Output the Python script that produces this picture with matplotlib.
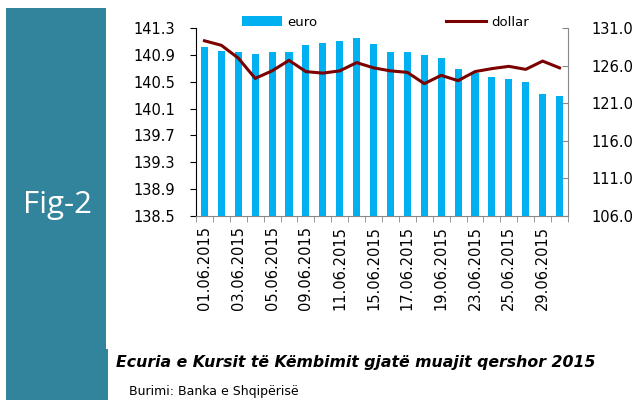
import numpy as np
import matplotlib.pyplot as plt
from matplotlib.patches import Rectangle
from matplotlib.lines import Line2D
from matplotlib.patches import Patch

# business days of June 2015
dates = ["01.06.2015", "02.06.2015", "03.06.2015", "04.06.2015", "05.06.2015",
         "08.06.2015", "09.06.2015", "10.06.2015", "11.06.2015", "12.06.2015",
         "15.06.2015", "16.06.2015", "17.06.2015", "18.06.2015", "19.06.2015",
         "22.06.2015", "23.06.2015", "24.06.2015", "25.06.2015", "26.06.2015",
         "29.06.2015", "30.06.2015"]

euro = [141.01, 140.96, 140.94, 140.92, 140.94, 140.94, 141.04, 141.08, 141.11, 141.15,
        141.06, 140.94, 140.94, 140.90, 140.85, 140.69, 140.63, 140.57, 140.54, 140.50,
        140.31, 140.29]

dollar = [129.3, 128.7, 127.0, 124.3, 125.3, 126.7, 125.2, 125.0, 125.3, 126.4,
          125.7, 125.3, 125.1, 123.6, 124.7, 124.0, 125.2, 125.6, 125.9, 125.5,
          126.6, 125.7]

left_ticks = [138.5, 138.9, 139.3, 139.7, 140.1, 140.5, 140.9, 141.3]
right_ticks = [106.0, 111.0, 116.0, 121.0, 126.0, 131.0]

title = "Ecuria e Kursit të Këmbimit gjatë muajit qershor 2015"
source = "Burimi: Banka e Shqipërisë"

W, H = 634, 400
fig = plt.figure(figsize=(W / 100, H / 100), dpi=100)
fig.patch.set_facecolor("white")

teal = "#31849B"
fig.patches.append(Rectangle((6 / W, 0), 100 / W, 392 / H, transform=fig.transFigure,
                             facecolor=teal, edgecolor="none", zorder=0))
fig.patches.append(Rectangle((6 / W, 0), 102 / W, 51 / H, transform=fig.transFigure,
                             facecolor=teal, edgecolor="none", zorder=0))
fig.text(57 / W, 1 - 205 / H, "Fig-2", color="white", fontsize=22.5,
         family="Open Sans", fontweight="medium", ha="center", va="center")

ax = fig.add_axes([196 / W, 184 / H, 372 / W, 188 / H])
x = np.arange(len(dates))
ax.bar(x, euro, width=0.42, color="#00B0F0", bottom=0, zorder=2)
ax.set_xlim(-0.5, len(dates) - 0.5)
ax.set_ylim(138.5, 141.3)
ax.set_yticks(left_ticks)
ax.set_yticklabels(["%.1f" % v for v in left_ticks])
ax.set_xticks(x[::2])
ax.set_xticklabels(dates[::2], rotation=90)
ax.set_xticks(np.arange(-0.5, len(dates), 1), minor=True)
ax.tick_params(axis="x", which="major", length=0, pad=7, labelsize=10.5)
ax.tick_params(axis="x", which="minor", length=4, color="#888888", direction="out")
ax.tick_params(axis="y", length=4, direction="out", pad=11, labelsize=10.5, color="black")
ax.spines["top"].set_visible(False)
ax.spines["right"].set_visible(False)
ax.spines["left"].set_color("black")
ax.spines["bottom"].set_color("#888888")

ax2 = ax.twinx()
ax2.plot(x, dollar, color="#7B0000", lw=2.2, zorder=3)
ax2.set_ylim(106, 131)
ax2.set_yticks(right_ticks)
ax2.set_yticklabels(["%.1f" % v for v in right_ticks])
ax2.tick_params(axis="y", length=4, direction="in", pad=17, labelsize=10.5, color="#888888")
ax2.spines["top"].set_visible(False)
ax2.spines["left"].set_visible(False)
ax2.spines["bottom"].set_visible(False)
ax2.spines["right"].set_color("#888888")

handles = [Patch(facecolor="#00B0F0", edgecolor="none"),
           Line2D([], [], color="#7B0000", lw=2.2)]
fig.legend(handles, ["euro", "dollar"], ncol=2, frameon=False, loc="center left",
           bbox_to_anchor=(242 / W, 1 - 22 / H), bbox_transform=fig.transFigure,
           borderpad=0, borderaxespad=0, handlelength=3.0, handletextpad=0.4,
           columnspacing=9.8, fontsize=9.5)

fig.text(116 / W, 1 - 363 / H, title, fontsize=11.3, fontweight="bold", style="italic",
         ha="left", va="center")
fig.text(129 / W, 1 - 392 / H, source, fontsize=9, ha="left", va="center")

fig.savefig("out.png", dpi=100)
